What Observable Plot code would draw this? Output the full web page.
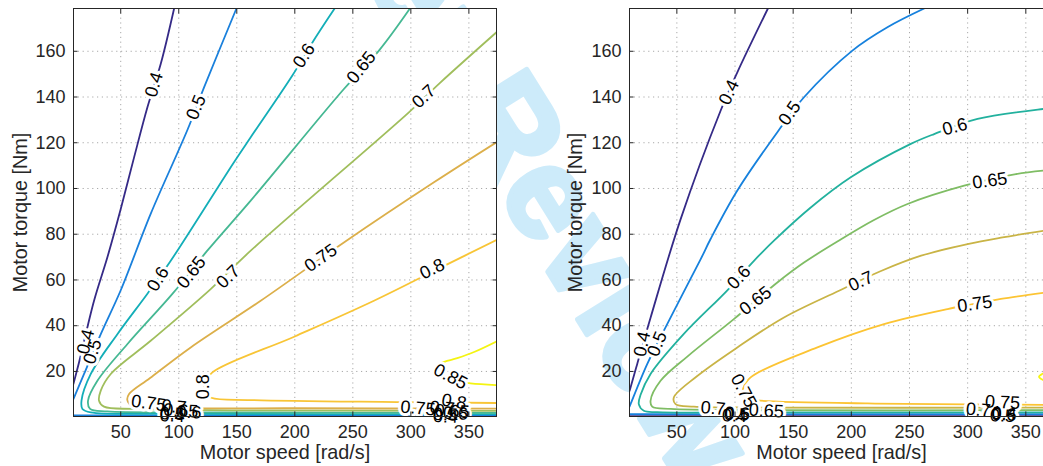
<!DOCTYPE html>
<html>
<head>
<meta charset="utf-8">
<script src="https://cdn.jsdelivr.net/npm/d3@7"></script>
<script src="https://cdn.jsdelivr.net/npm/@observablehq/plot@0.6"></script>
<style>
html, body { margin: 0; padding: 0; background: #fff; overflow: hidden; width: 1043px; height: 466px; }
#wrap { position: relative; width: 1043px; height: 466px; overflow: hidden; }
.layer { position: absolute; top: 0; }
</style>
</head>
<body>
<div id="wrap"></div>
<script>
// ---------- axes ----------
const speedTicks = [50, 100, 150, 200, 250, 300, 350];
const torqueTicks = [20, 40, 60, 80, 100, 120, 140, 160];
const speedDomain = [9.3, 373.8];
const torqueDomain = [0.3, 178.7];
const xLabel = "Motor speed [rad/s]";
const yLabel = "Motor torque [Nm]";
const watermark = "Peer Review";

// ---------- contour levels ----------
const levelsA = [0.4, 0.5, 0.6, 0.65, 0.7, 0.75, 0.8, 0.85];
const levelsB = [0.4, 0.5, 0.6, 0.65, 0.7, 0.75, 0.8];
const colorsA = ["#352a87", "#1a80dc", "#13aeb8", "#45b893", "#a0be5c", "#dcaf4a", "#f8c536", "#f4f412"];
const colorsB = ["#352a87", "#1681dd", "#22b19e", "#7fbd64", "#c9b446", "#fcc433", "#f6f513"];

// ---------- left panel contours: [speed rad/s, torque Nm] ----------
const a40 = [
  [[96,178.7],[84.5,154.5],[73,135.5],[61.5,113.6],[50,91],[38.5,69.9],[27,50.9],[14.1,24],[9.2,14.5]],
  [[9.2,0.35],[190,0.35],[373.8,0.35]]
];
const a50 = [
  [[149.7,178.7],[121.8,144.2],[107.8,126],[75.8,88.9],[50,55.5],[32.8,36.3],[18.4,18.9],[9.2,7.9]],
  [[9.2,0.8],[190,0.8],[373.8,0.8]]
];
const a60 = [
  [[234.3,178.7],[218,166.1],[197.9,149.4],[162,122.4],[147.6,111.5],[93.1,68.4],[73,54],[47.1,36.3],[24.2,18.9],[16.2,7.2],[17,3.6],[24.2,2.1],[100,1.5],[373.8,1.3]]
];
const a65 = [
  [[299.2,178.7],[272.5,160.3],[242.3,143.5],[162,94.7],[124.6,72.8],[94.5,53.9],[55.8,32],[29.9,15.9],[21.8,7.2],[23.6,3.6],[38.5,2.5],[120,2.1],[373.8,1.9]]
];
const a70 = [
  [[373.8,168.3],[325.6,146.4],[298.3,133.3],[162,72.8],[127.5,56],[75.8,33.4],[41.4,18.9],[32.8,11.6],[31.3,7.2],[35.6,4.6],[61.5,3.6],[150,3.0],[373.8,2.8]]
];
const a75 = [
  [[373.8,120.2],[319.9,102.7],[242.3,76.4],[170.6,50.9],[110.3,30.5],[75,17],[57.2,10.1],[55.7,7.5],[60,4.8],[75,4.1],[200,3.9],[373.8,3.7]]
];
const a80 = [
  [[373.8,77.5],[330,66.5],[268.2,50.9],[200,35.3],[129,19.6],[123,15],[122,11],[128,8.5],[162,7.5],[288,6.6],[373.8,6.2]]
];
const a85 = [
  [[373.8,33.1],[355,28.6],[340,25.8],[325.6,23.6],[320,21],[322,18],[335,15.8],[351.5,14.8],[373.8,14]]
];

// ---------- right panel contours ----------
const b40 = [
  [[128.3,178.7],[102,150.8],[87.6,134],[53.2,86.5],[27.4,43.5],[15.9,23.2],[10.2,13],[9.3,11.5]],
  [[9.3,0.5],[190,0.5],[373.8,0.5]]
];
const b50 = [
  [[262.6,178.7],[231,170.5],[200.9,160.3],[159.3,139.9],[136.4,124.6],[102,99.1],[79,77.9],[70.4,69],[41.7,40.7],[24.5,23.2],[10.2,5.7],[9.3,4.6]],
  [[9.3,1.3],[190,1.3],[373.8,1.3]]
];
const b60 = [
  [[373.8,135.2],[365.6,134.8],[308.5,130.4],[271.2,123.8],[251.1,119.5],[199.5,104.9],[165.1,91.7],[133.5,77.2],[116.3,68.4],[93.4,55.5],[56,36.4],[27.4,18.9],[19,10],[17.3,5.7],[21.6,2.8],[33.1,2.2],[120,2.1],[373.8,2.1]]
];
const b65 = [
  [[373.8,108.2],[341.5,106.3],[297,101.2],[248.3,93.2],[219.5,86.2],[188,76.8],[159.3,67.6],[136.4,58.9],[99,42.9],[59,26.5],[36,15.9],[27.4,7.2],[28.8,4.6],[44.6,3.6],[120,3.1],[373.8,3.1]]
];
const b70 = [
  [[373.8,82.2],[330,78.6],[299.9,75.7],[260,70.6],[225,63.8],[189.4,55.3],[142.1,43.6],[102,30.5],[67,17.8],[47.4,8.6],[48.9,5.7],[64.6,4.6],[120,4.2],[373.8,4.2]]
];
const b75 = [
  [[373.8,55],[328.6,51.7],[305.6,49.5],[282.7,47.3],[228.1,40.7],[170.8,30.5],[113.4,17.4],[107,12.5],[107,9.5],[113,7.8],[122,7.2],[213.9,6.0],[299.9,5.6],[373.8,5.4]]
];
const b80 = [
  [[374,23],[365.6,19.4],[361.3,17.7],[365.6,16],[374,14]]
];

// ---------- contour labels: [speed, torque, text, angle] ----------
const labelsA = [
  [78.7,145.4,"0.4",-73],[115,135.5,"0.5",-68],[207.9,158.1,"0.6",-57],[257.3,153,"0.65",-52],
  [311.2,140.2,"0.7",-43],[222.3,69.6,"0.75",-35],[318.4,64.8,"0.8",-26],[142.6,61.4,"0.7",-44],
  [110.9,63.3,"0.65",-52],[82.1,60.4,"0.6",-58],[25.7,28.7,"0.5",-72],[19.9,33,"0.4",-76],
  [121.5,13.3,"0.8",-90],[334.2,17.7,"0.85",28],
  [74.1,6.1,"0.75",8],[95.9,4.6,"0.7",5],[101.7,2.8,"0.65",3],[108.8,2.1,"0.6",2],[94.4,1.4,"0.5",2],[94.4,0.6,"0.4",2],
  [306.2,3.9,"0.75",5],[337.3,6.8,"0.8",10],[327,4.0,"0.7",5],[335.6,2.5,"0.65",3],[338.5,1.6,"0.6",2],[329.9,1.1,"0.5",2],[329.9,0.2,"0.4",2]
];
const labelsB = [
  [94.8,142,"0.4",-65],[147,132.9,"0.5",-55],[289,127,"0.6",-15],[319.1,103.4,"0.65",-8],
  [208.1,59.4,"0.7",-24],[306.2,49.5,"0.75",-8],[103.4,61.1,"0.6",-48],[117.7,50.9,"0.65",-38],
  [20.2,32,"0.4",-78],[33.1,32,"0.5",-68],[107.4,11.6,"0.75",62],
  [81.2,3.9,"0.7",5],[127,2.8,"0.65",3],[101.2,1.1,"0.5",2],[99.5,0.6,"0.4",2],[102,1.5,"0.6",2],
  [309.2,3.2,"0.7",5],[330,6.5,"0.75",3],[331.2,1.1,"0.6",2],[330,0.6,"0.5",2],[331.5,1.5,"0.4",2]
];

// ---------- build tables ----------
function toRows(tag, level, segs) {
  return segs.flatMap((seg, j) => seg.map(([speed, torque]) => ({level, seg: `${tag}${level}-${j}`, speed, torque})));
}
const rowsA = [[0.4,a40],[0.5,a50],[0.6,a60],[0.65,a65],[0.7,a70],[0.75,a75],[0.8,a80],[0.85,a85]]
  .flatMap(([lv, s]) => toRows("A", lv, s));
const rowsB = [[0.4,b40],[0.5,b50],[0.6,b60],[0.65,b65],[0.7,b70],[0.75,b75],[0.8,b80]]
  .flatMap(([lv, s]) => toRows("B", lv, s));

const FONT = "'Liberation Sans', Arial, Helvetica, sans-serif";
const INK = "#262626";

function panel({rows, labels, levels, colors, width, marginLeft, yLabelDx}) {
  const lbl = {x: d => d[0], y: d => d[1], text: d => d[2], rotate: d => d[3], fontSize: 18};
  return Plot.plot({
    width, height: 466,
    marginLeft, marginRight: 24, marginTop: 8, marginBottom: 50,
    style: {background: "transparent", fontFamily: FONT, fontSize: "18px", color: INK, overflow: "visible"},
    x: {domain: speedDomain},
    y: {domain: torqueDomain},
    color: {type: "ordinal", domain: levels, range: colors},
    marks: [
      Plot.frame({fill: "white"}),
      Plot.gridX(speedTicks, {stroke: "#a9a9a9", strokeOpacity: 1, strokeDasharray: "1.2,3.6"}),
      Plot.gridY(torqueTicks, {stroke: "#a9a9a9", strokeOpacity: 1, strokeDasharray: "1.2,3.6"}),
      Plot.line(rows, {x: "speed", y: "torque", z: "seg", stroke: "level", strokeWidth: 1.8, curve: "catmull-rom", clip: true}),
      Plot.text(labels, {...lbl, fill: "none", stroke: "white", strokeWidth: 6}),
      Plot.text(labels, {...lbl, fill: "#000"}),
      Plot.frame({stroke: INK, strokeWidth: 1}),
      Plot.axisX(speedTicks, {anchor: "bottom", tickSize: 0, tickPadding: 9, fontSize: 18, label: null, color: INK}),
      Plot.axisX(speedTicks, {anchor: "bottom", tickSize: -4.5, fill: null, stroke: INK}),
      Plot.axisX(speedTicks, {anchor: "top", tickSize: -4.5, fill: null, stroke: INK}),
      Plot.axisY(torqueTicks, {anchor: "left", tickSize: 0, tickPadding: 8, fontSize: 18, label: null, color: INK}),
      Plot.axisY(torqueTicks, {anchor: "left", tickSize: -4.5, fill: null, stroke: INK}),
      Plot.axisY(torqueTicks, {anchor: "right", tickSize: -4.5, fill: null, stroke: INK}),
      Plot.text([xLabel], {text: d => d, frameAnchor: "bottom", lineAnchor: "middle", textAnchor: "middle", dy: 36.5, fontSize: 19.8, fill: INK}),
      Plot.text([yLabel], {text: d => d, frameAnchor: "left", lineAnchor: "middle", textAnchor: "middle", rotate: -90, dx: yLabelDx, fontSize: 19.8, fill: INK})
    ]
  });
}

const wrap = d3.select("#wrap");

// watermark (behind the axes)
const wm = wrap.append("svg").attr("class", "layer").style("left", "0px")
  .attr("width", 1043).attr("height", 466);
wm.append("text")
  .attr("transform", "translate(316,-184) rotate(58)")
  .attr("dominant-baseline", "central")
  .attr("font-family", FONT).attr("font-weight", "bold").attr("font-size", 130)
  .attr("fill", "#cdebfa").attr("stroke", "#cdebfa").attr("stroke-width", 5).attr("stroke-linejoin", "round")
  .text(watermark);

const left = panel({rows: rowsA, labels: labelsA, levels: levelsA, colors: colorsA, width: 520, marginLeft: 73, yLabelDx: -53});
const right = panel({rows: rowsB, labels: labelsB, levels: levelsB, colors: colorsB, width: 557, marginLeft: 109, yLabelDx: -54});

wrap.append("div").attr("class", "layer").style("left", "0px").style("width", "520px").node().appendChild(left);
wrap.append("div").attr("class", "layer").style("left", "520px").style("width", "557px").node().appendChild(right);
</script>
</body>
</html>
